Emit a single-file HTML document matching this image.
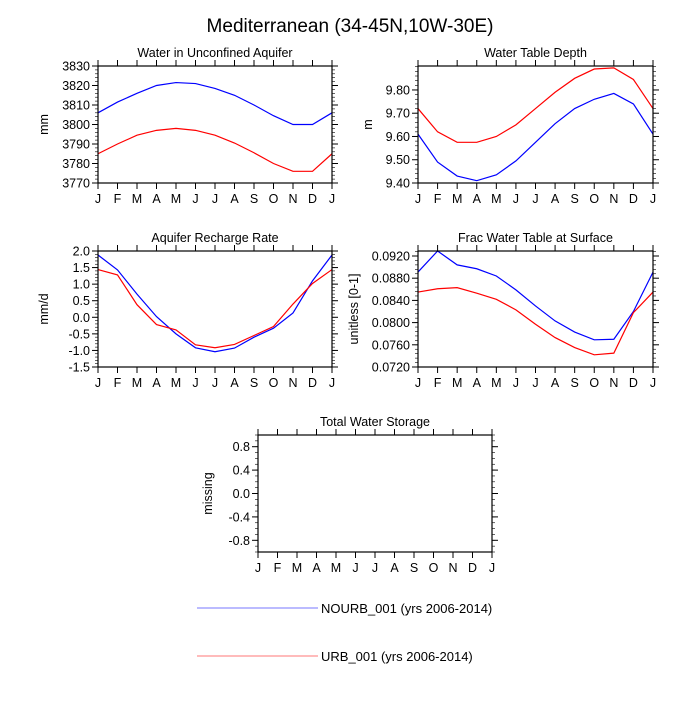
<!DOCTYPE html>
<html><head><meta charset="utf-8"><style>
body{margin:0;background:#fff;}
svg text{font-family:"Liberation Sans",Arial,sans-serif;fill:#000;}
</style></head><body>
<svg id="c" width="700" height="700" xmlns="http://www.w3.org/2000/svg">
<text x="350" y="32" font-size="19" text-anchor="middle">Mediterranean (34-45N,10W-30E)</text>
<line x1="197" y1="608" x2="318" y2="608" stroke="#7777ff" stroke-width="1"/>
<text x="321" y="613" font-size="13">NOURB_001 (yrs 2006-2014)</text>
<line x1="197" y1="656" x2="318" y2="656" stroke="#ff7777" stroke-width="1"/>
<text x="321" y="661" font-size="13">URB_001 (yrs 2006-2014)</text>
</svg>
<script>
const months = ["J","F","M","A","M","J","J","A","S","O","N","D","J"];
const aquiferNourb = [3806,3811.5,3816,3820,3821.5,3821,3818.5,3815,3810,3804.5,3800,3800,3806];
const aquiferUrb = [3785,3790,3794.5,3797,3798,3797,3794.5,3790.5,3785.5,3780,3776,3776,3785];
const depthNourb = [9.61,9.49,9.43,9.41,9.435,9.495,9.575,9.655,9.72,9.76,9.785,9.74,9.61];
const depthUrb = [9.72,9.62,9.575,9.575,9.60,9.65,9.72,9.79,9.85,9.89,9.895,9.845,9.72];
const rechargeNourb = [1.88,1.43,0.7,0.02,-0.5,-0.92,-1.04,-0.93,-0.6,-0.33,0.13,1.1,1.88];
const rechargeUrb = [1.44,1.28,0.38,-0.22,-0.38,-0.83,-0.92,-0.82,-0.55,-0.28,0.4,1.02,1.44];
const fracNourb = [0.0891,0.0929,0.0904,0.0897,0.0884,0.0859,0.0830,0.0803,0.0783,0.0769,0.0770,0.0820,0.0891];
const fracUrb = [0.0855,0.0861,0.0863,0.0853,0.0842,0.0823,0.0797,0.0773,0.0755,0.0742,0.0745,0.0818,0.0855];
const aquiferTicks = ["3770","3780","3790","3800","3810","3820","3830"];
const depthTicks = ["9.40","9.50","9.60","9.70","9.80"];
const rechargeTicks = ["-1.5","-1.0","-0.5","0.0","0.5","1.0","1.5","2.0"];
const fracTicks = ["0.0720","0.0760","0.0800","0.0840","0.0880","0.0920"];
const storageTicks = ["-0.8","-0.4","0.0","0.4","0.8"];

const NS="http://www.w3.org/2000/svg";
const svg=document.getElementById('c');
function mk(tag,attrs,parent){const e=document.createElementNS(NS,tag);for(const k in attrs)e.setAttribute(k,attrs[k]);(parent||svg).appendChild(e);return e;}

function panel(key,title,ylab,ylx,x0,x1,y0,y1,ymin,ymax,ticks,minorStep,series){
  const g=mk('g',{});
  
  
  const sx=i=>x0+(x1-x0)*i/12;
  const sy=v=>y1-(y1-y0)*(v-ymin)/(ymax-ymin);
  const t=mk('text',{x:(x0+x1)/2,y:y0-9,'font-size':12.5,'text-anchor':'middle'},g);t.textContent=title;
  
  
  const yl=mk('text',{x:0,y:0,'font-size':12.5,'text-anchor':'middle',transform:`translate(${ylx},${(y0+y1)/2}) rotate(-90)`},g);yl.textContent=ylab;
  
  
  const start=Math.ceil(ymin/minorStep-1e-6);
  for(let k=start;k*minorStep<=ymax+1e-9;k++){const y=sy(k*minorStep);
    mk('line',{x1:x0-3,x2:x0,y1:y,y2:y,stroke:'#000','stroke-width':0.6},g);
    mk('line',{x1:x1,x2:x1+3,y1:y,y2:y,stroke:'#000','stroke-width':0.6},g);}
  ticks.forEach(s=>{const v=parseFloat(s),y=sy(v);
    mk('line',{x1:x0-6,x2:x0,y1:y,y2:y,stroke:'#000','stroke-width':1},g);
    mk('line',{x1:x1,x2:x1+6,y1:y,y2:y,stroke:'#000','stroke-width':1},g);
    const tt=mk('text',{x:x0-8,y:y+4.5,'font-size':12.5,'text-anchor':'end'},g);tt.textContent=s;
    
    });
  months.forEach((m,i)=>{const x=sx(i);
    mk('line',{x1:x,x2:x,y1:y1,y2:y1+6,stroke:'#000','stroke-width':1},g);
    mk('line',{x1:x,x2:x,y1:y0-6,y2:y0,stroke:'#000','stroke-width':1},g);
    const tt=mk('text',{x:x,y:y1+20,'font-size':12.5,'text-anchor':'middle'},g);tt.textContent=m;
    
    });
  series.forEach(([vals,col,nm])=>{
    const p=mk('polyline',{points:vals.map((v,i)=>sx(i)+','+sy(v)).join(' '),fill:'none',stroke:col,'stroke-width':1.2},g);
    
    });
  mk('rect',{x:x0,y:y0,width:x1-x0,height:y1-y0,fill:'none',stroke:'#000','stroke-width':1.2},g);
}
panel('aquifer','Water in Unconfined Aquifer','mm',48,98,332,66,183,3770,3830,aquiferTicks,2,[[aquiferNourb,'#0000ff','nourb'],[aquiferUrb,'#ff0000','urb']]);
panel('depth','Water Table Depth','m',372,418,653,66,183,9.40,9.903,depthTicks,0.02,[[depthNourb,'#0000ff','nourb'],[depthUrb,'#ff0000','urb']]);
panel('recharge','Aquifer Recharge Rate','mm/d',48,98,332,251,367,-1.5,2.0,rechargeTicks,0.1,[[rechargeNourb,'#0000ff','nourb'],[rechargeUrb,'#ff0000','urb']]);
panel('frac','Frac Water Table at Surface','unitless [0-1]',358,418,653,251,367,0.0720,0.0929,fracTicks,0.0008,[[fracNourb,'#0000ff','nourb'],[fracUrb,'#ff0000','urb']]);
panel('storage','Total Water Storage','missing',212,258,492,435,552,-1,1,storageTicks,0.1,[]);
</script>
</body></html>
